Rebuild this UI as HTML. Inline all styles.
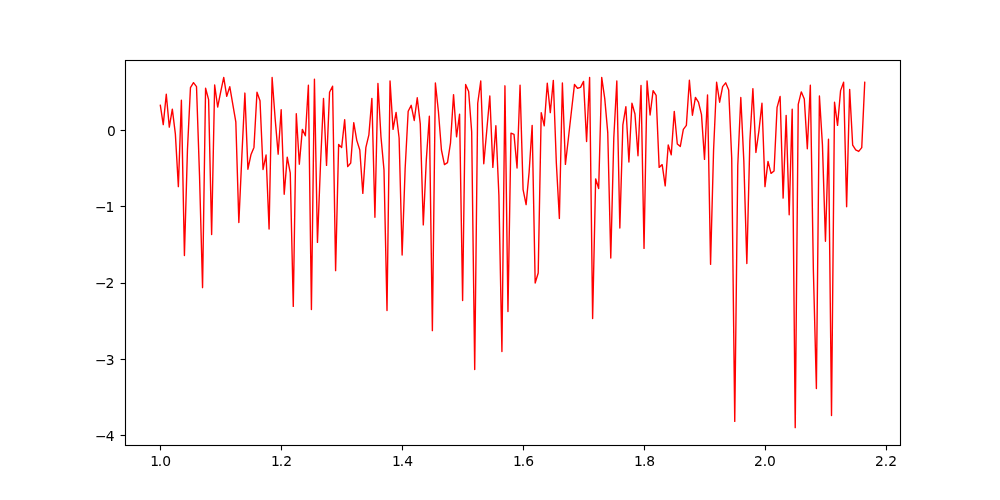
<!DOCTYPE html>
<html lang="en"><head><meta charset="utf-8"><title>plot</title>
<style>
html,body{margin:0;padding:0;background:#fff;}
svg{display:block;}
svg text{font-family:"DejaVu Sans","Liberation Sans",sans-serif;font-size:13.889px;fill:#000;}
</style></head><body>
<svg width="1000" height="500" viewBox="0 0 1000 500">
<rect x="0" y="0" width="1000" height="500" fill="#ffffff"/>
<rect x="125.5" y="60.5" width="775" height="385" fill="none" stroke="#000" stroke-width="1.111"/>
<line x1="160.5" y1="445.5" x2="160.5" y2="450.4" stroke="#000" stroke-width="1.111"/>
<line x1="281.5" y1="445.5" x2="281.5" y2="450.4" stroke="#000" stroke-width="1.111"/>
<line x1="402.5" y1="445.5" x2="402.5" y2="450.4" stroke="#000" stroke-width="1.111"/>
<line x1="523.5" y1="445.5" x2="523.5" y2="450.4" stroke="#000" stroke-width="1.111"/>
<line x1="644.5" y1="445.5" x2="644.5" y2="450.4" stroke="#000" stroke-width="1.111"/>
<line x1="765.5" y1="445.5" x2="765.5" y2="450.4" stroke="#000" stroke-width="1.111"/>
<line x1="886.5" y1="445.5" x2="886.5" y2="450.4" stroke="#000" stroke-width="1.111"/>
<line x1="120.6" y1="130.5" x2="125.5" y2="130.5" stroke="#000" stroke-width="1.111"/>
<line x1="120.6" y1="206.5" x2="125.5" y2="206.5" stroke="#000" stroke-width="1.111"/>
<line x1="120.6" y1="283.5" x2="125.5" y2="283.5" stroke="#000" stroke-width="1.111"/>
<line x1="120.6" y1="359.5" x2="125.5" y2="359.5" stroke="#000" stroke-width="1.111"/>
<line x1="120.6" y1="435.5" x2="125.5" y2="435.5" stroke="#000" stroke-width="1.111"/>
<text x="150.15 157.81 162.26" y="466.00">1.0</text>
<text x="270.99 278.83 283.15" y="466.00">1.2</text>
<text x="391.94 399.85 404.29" y="466.00">1.4</text>
<text x="512.96 520.87 525.24" y="466.00">1.6</text>
<text x="633.98 641.89 646.31" y="466.00">1.8</text>
<text x="753.98 762.81 767.09" y="466.00">2.0</text>
<text x="875.00 883.74 888.15" y="466.00">2.2</text>
<text x="106.93" y="136.00">0</text>
<text x="95.02 105.58" y="212.00">−1</text>
<text x="95.02 105.62" y="288.00">−2</text>
<text x="95.02 105.69" y="365.00">−3</text>
<text x="95.02 105.68" y="441.00">−4</text>
<polyline points="160.23,104.59 163.25,124.58 166.27,94.21 169.30,127.17 172.32,109.17 175.35,133.81 178.37,186.61 181.39,100.24 184.42,255.59 187.44,150.22 190.46,87.65 193.49,82.62 196.51,86.66 199.54,176.16 202.56,287.63 205.58,88.26 208.61,99.63 211.63,234.45 214.66,84.98 217.68,107.03 220.70,91.85 223.73,77.43 226.75,96.27 229.77,86.66 232.80,104.36 235.82,121.76 238.85,222.55 241.87,156.02 244.89,93.07 247.92,169.22 250.94,154.79 253.96,147.39 256.99,92.23 260.01,100.85 263.04,169.44 266.06,155.02 269.08,228.96 272.11,77.43 275.13,118.55 278.16,154.18 281.18,109.78 284.20,194.24 287.23,157.16 290.25,172.80 293.27,306.40 296.30,113.75 299.32,164.18 302.35,129.39 305.37,135.80 308.39,85.21 311.42,309.46 314.44,79.26 317.46,242.39 320.49,164.71 323.51,98.41 326.54,165.40 329.56,92.23 332.58,86.20 335.61,270.62 338.63,144.42 341.65,147.39 344.68,119.70 347.70,166.62 350.73,163.04 353.75,122.60 356.77,140.37 359.80,149.99 362.82,193.40 365.85,147.62 368.87,134.96 371.89,98.41 374.92,217.21 377.94,83.45 380.96,136.79 383.99,169.83 387.01,310.60 390.04,81.01 393.06,129.39 396.08,112.37 399.11,138.01 402.13,254.98 405.15,168.53 408.18,111.23 411.20,105.35 414.23,120.46 417.25,97.80 420.27,123.89 423.30,224.91 426.32,159.60 429.35,116.19 432.37,330.67 435.39,83.00 438.42,111.53 441.44,149.99 444.46,164.64 447.49,162.58 450.51,142.82 453.54,94.59 456.56,136.79 459.58,114.20 462.61,300.45 465.63,84.45 468.65,91.47 471.68,131.90 474.70,369.58 477.73,103.22 480.75,81.01 483.77,163.80 486.80,130.00 489.82,96.04 492.84,167.38 495.87,125.80 498.89,195.23 501.92,351.57 504.94,85.82 507.96,311.59 510.99,133.20 514.01,134.35 517.04,167.99 520.06,85.21 523.08,189.59 526.11,204.62 529.13,171.96 532.15,125.34 535.18,282.98 538.20,272.98 541.23,112.60 544.25,125.80 547.27,83.23 550.30,112.60 553.32,80.40 556.34,162.96 559.37,218.43 562.39,83.00 565.42,164.41 568.44,138.01 571.46,111.00 574.49,84.45 577.51,88.26 580.53,87.42 583.56,81.39 586.58,141.59 589.61,77.43 592.63,318.46 595.65,178.83 598.68,188.44 601.70,77.43 604.73,98.41 607.75,132.67 610.77,257.95 613.80,138.01 616.82,81.01 619.84,227.97 622.87,124.81 625.89,106.73 628.92,161.97 631.94,103.22 634.96,113.97 637.99,155.79 641.01,85.44 644.03,248.42 647.06,81.01 650.08,114.97 653.11,90.63 656.13,95.43 659.15,167.38 662.18,164.64 665.20,185.85 668.23,144.95 671.25,154.79 674.27,111.38 677.30,143.96 680.32,146.40 683.34,129.39 686.37,125.34 689.39,80.25 692.42,115.20 695.44,97.42 698.46,102.07 701.49,114.58 704.51,159.37 707.53,95.05 710.56,264.36 713.58,149.99 716.61,82.23 719.63,102.22 722.65,86.66 725.68,82.84 728.70,90.02 731.72,158.38 734.75,421.39 737.77,165.48 740.80,97.42 743.82,160.90 746.84,263.60 749.87,140.98 752.89,88.64 755.92,152.43 758.94,130.61 761.96,103.22 764.99,186.61 768.01,161.43 771.03,173.41 774.06,170.97 777.08,107.34 780.11,96.43 783.13,198.13 786.15,115.35 789.18,214.69 792.20,109.17 795.22,427.64 798.25,104.36 801.27,91.85 804.30,99.02 807.32,148.77 810.34,85.21 813.37,269.93 816.39,388.58 819.42,96.04 822.44,144.88 825.46,241.32 828.49,139.15 831.51,415.59 834.53,102.22 837.56,125.34 840.58,90.63 843.61,82.23 846.63,206.68 849.65,89.41 852.68,145.18 855.70,149.99 858.72,151.44 861.75,147.62 864.77,81.62" fill="none" stroke="#ff0000" stroke-width="1.39" stroke-linejoin="round" stroke-linecap="butt"/>
</svg>
</body></html>
